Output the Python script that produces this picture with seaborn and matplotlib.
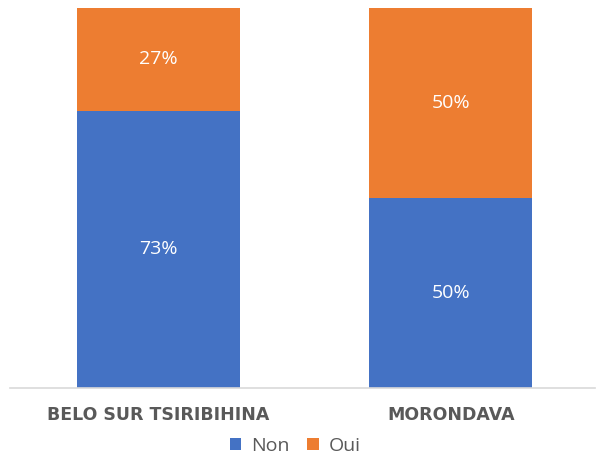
import matplotlib
matplotlib.use("Agg")
import matplotlib.pyplot as plt
import seaborn as sns
import pandas as pd
from matplotlib.patches import Patch

categories = ["BELO SUR TSIRIBIHINA", "MORONDAVA"]
non_values = [73, 50]
oui_values = [27, 50]
series_names = ["Non", "Oui"]
colors = ["#4472C4", "#ED7D31"]

sns.set_theme(style="white")
plt.rcParams["font.family"] = ["Open Sans", "DejaVu Sans"]

df = pd.DataFrame({"cat": categories, "non": non_values, "oui": oui_values})
df["total"] = df["non"] + df["oui"]

fig = plt.figure(figsize=(6.02, 4.57), dpi=100)
ax = fig.add_axes([12/602, 1-388/457, 585/602, 380/457])

sns.barplot(data=df, x="cat", y="total", color=colors[1], width=0.557,
            saturation=1, ax=ax, linewidth=0)
sns.barplot(data=df, x="cat", y="non", color=colors[0], width=0.557,
            saturation=1, ax=ax, linewidth=0)

for i, (n, o) in enumerate(zip(non_values, oui_values)):
    ax.text(i, n/2, f"{n}%", ha="center", va="center", color="white", fontsize=14)
    ax.text(i, n + o/2, f"{o}%", ha="center", va="center", color="white", fontsize=14)

ax.set_xlim(-0.5, 1.5)
ax.set_ylim(0, 100)
ax.set_xlabel("")
ax.set_ylabel("")
ax.set_yticks([])
ax.set_xticks(range(len(categories)))
ax.set_xticklabels(categories, fontsize=12.5, fontweight="bold", color="#595959",
                   family="DejaVu Sans")
ax.tick_params(axis="x", length=0, pad=13)
for s in ["top", "left", "right"]:
    ax.spines[s].set_visible(False)
ax.spines["bottom"].set_color("#D9D9D9")
ax.spines["bottom"].set_linewidth(1.2)
ax.spines["bottom"].set_bounds(-0.507, 1.493)

handles = [Patch(facecolor=c, edgecolor="none") for c in colors]
fig.legend(handles, series_names, loc="center", bbox_to_anchor=(0.49, 1-446/457),
           ncol=2, frameon=False, fontsize=14, labelcolor="#595959",
           handlelength=0.6, handleheight=0.6, handletextpad=0.5, columnspacing=0.9)

fig.savefig("out.png", dpi=100)
